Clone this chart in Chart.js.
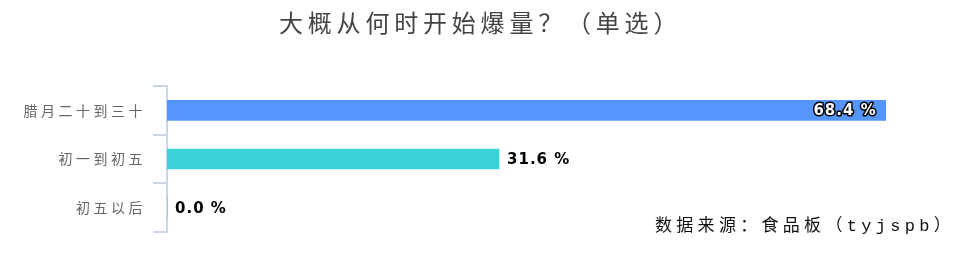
<!DOCTYPE html>
<html>
<head>
<meta charset="utf-8">
<script src="https://cdn.jsdelivr.net/npm/chart.js@4"></script>
<style>
  html, body { margin: 0; padding: 0; background: #fff; }
  #wrap { width: 957px; height: 255px; position: relative; }
</style>
</head>
<body>
<div id="wrap"><canvas id="grafica"></canvas></div>
<script>
// datos de la grafica
const categorias = ["腊月二十到三十", "初一到初五", "初五以后"];
const porcentajes = [68.4, 31.6, 0.0];
const colores = ["#5596fc", "#3ad3da", "#9c9c9c"];
const titulo = "大概从何时开始爆量？（单选）";
const fuente = "数据来源：食品板（tyjspb）";

// textos fijos y etiquetas de valores
const textos = {
    id: "textos",
    beforeDraw(chart) {
        // espaciado de las etiquetas del eje
        chart.ctx.letterSpacing = "3.5px";
    },
    afterDatasetsDraw(chart) {
        const ctx = chart.ctx;
        const meta = chart.getDatasetMeta(0);
        ctx.save();
        ctx.letterSpacing = "1px";
        ctx.font = "bold 15px 'DejaVu Sans'";
        ctx.textBaseline = "middle";
        meta.data.forEach((bar, i) => {
            const txt = porcentajes[i].toFixed(1) + " %";
            if (i === 0) {
                ctx.textAlign = "right";
                ctx.lineWidth = 3;
                ctx.strokeStyle = "#000";
                ctx.lineJoin = "round";
                ctx.strokeText(txt, bar.x - 9, bar.y + 1);
                ctx.fillStyle = "#fff";
                ctx.fillText(txt, bar.x - 9, bar.y + 1);
            } else {
                ctx.textAlign = "left";
                ctx.fillStyle = "#000";
                ctx.fillText(txt, bar.x + 8, bar.y + 1);
            }
        });
        ctx.restore();
    },
    afterDraw(chart) {
        const ctx = chart.ctx;
        ctx.save();
        ctx.fillStyle = "#444";
        ctx.textBaseline = "middle";
        ctx.textAlign = "left";
        ctx.letterSpacing = "4.8px";
        ctx.font = "24px 'DejaVu Serif', 'Noto Sans CJK SC'";
        ctx.fillText(titulo, 279, 26);
        ctx.fillStyle = "#111";
        ctx.letterSpacing = "4.3px";
        ctx.font = "17px 'Liberation Mono', 'Noto Sans CJK SC'";
        ctx.fillText(fuente, 655, 226);
        ctx.restore();
    }
};

const config = {
    type: "bar",
    data: {
        labels: categorias,
        datasets: [{
            data: porcentajes,
            backgroundColor: colores,
            barThickness: 20,
            borderWidth: 0
        }]
    },
    options: {
        indexAxis: "y",
        responsive: true,
        maintainAspectRatio: false,
        animation: false,
        layout: { padding: { top: 86, bottom: 23, left: 0, right: 2 } },
        plugins: {
            legend: { display: false },
            tooltip: { enabled: false }
        },
        scales: {
            x: {
                display: false,
                min: 0,
                max: 75
            },
            y: {
                afterFit: (scale) => { scale.width = 167; },
                border: { color: "#ccd6eb", width: 2 },
                grid: {
                    drawOnChartArea: false,
                    color: "#ccd6eb",
                    lineWidth: 2,
                    tickLength: 14
                },
                ticks: {
                    color: "#666",
                    padding: 7,
                    font: { size: 14, family: "'Noto Sans CJK SC'" }
                }
            }
        }
    },
    plugins: [textos]
};

new Chart(document.getElementById("grafica"), config);
</script>
</body>
</html>
